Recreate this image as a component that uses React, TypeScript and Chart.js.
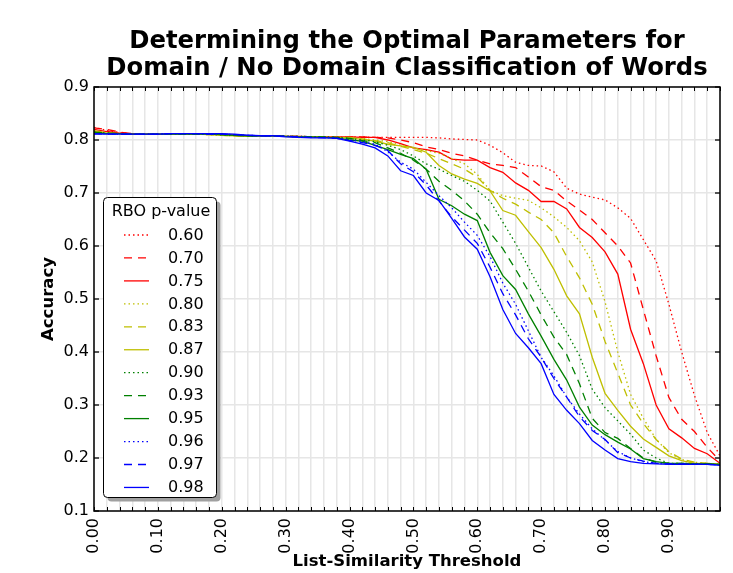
import React, { useEffect, useRef } from 'react';
import { Chart, registerables } from 'chart.js';

Chart.register(...registerables);

const FONT = '"DejaVu Sans", sans-serif';

const titleLines = ['Determining the Optimal Parameters for', 'Domain / No Domain Classification of Words'];
const xAxisTitle = 'List-Similarity Threshold';
const yAxisTitle = 'Accuracy';
const legendTitle = 'RBO p-value';

const thresholds = [
  0.00, 0.02, 0.04, 0.06, 0.08, 0.10, 0.12, 0.14, 0.16, 0.18,
  0.20, 0.22, 0.24, 0.26, 0.28, 0.30, 0.32, 0.34, 0.36, 0.38,
  0.40, 0.42, 0.44, 0.46, 0.48, 0.50, 0.52, 0.54, 0.56, 0.58,
  0.60, 0.62, 0.64, 0.66, 0.68, 0.70, 0.72, 0.74, 0.76, 0.78,
  0.80, 0.82, 0.84, 0.86, 0.88, 0.90, 0.92, 0.94, 0.96, 0.98,
];

const pValues = ['0.60', '0.70', '0.75', '0.80', '0.83', '0.87', '0.90', '0.93', '0.95', '0.96', '0.97', '0.98'];

const acc060 = [0.824,0.818,0.814,0.812,0.811,0.811,0.811,0.811,0.811,0.811,0.810,0.809,0.808,0.808,0.808,0.807,0.807,0.806,0.806,0.806,
  0.806,0.806,0.805,0.805,0.805,0.805,0.805,0.804,0.802,0.801,
  0.800,0.790,0.776,0.758,0.752,0.751,0.740,0.709,0.698,0.692,
  0.687,0.672,0.652,0.612,0.572,0.490,0.400,0.318,0.248,0.204];
const acc070 = [0.823,0.820,0.815,0.812,0.811,0.811,0.811,0.811,0.811,0.811,0.810,0.809,0.808,0.808,0.808,0.807,0.807,0.806,0.806,0.806,
  0.806,0.806,0.805,0.804,0.800,0.795,0.787,0.782,0.775,0.770,
  0.762,0.755,0.752,0.748,0.730,0.712,0.705,0.685,0.668,0.650,
  0.625,0.600,0.568,0.480,0.393,0.314,0.273,0.250,0.220,0.195];
const acc075 = [0.820,0.816,0.813,0.812,0.811,0.811,0.811,0.811,0.811,0.811,0.810,0.809,0.808,0.808,0.808,0.807,0.807,0.806,0.806,0.806,
  0.806,0.805,0.805,0.800,0.793,0.785,0.782,0.777,0.764,0.762,
  0.762,0.748,0.739,0.719,0.705,0.684,0.684,0.670,0.635,0.616,
  0.589,0.547,0.443,0.378,0.300,0.255,0.238,0.218,0.208,0.190];
const acc080 = [0.818,0.814,0.812,0.811,0.811,0.811,0.811,0.811,0.811,0.810,0.809,0.808,0.807,0.807,0.807,0.807,0.806,0.806,0.805,0.805,
  0.805,0.803,0.800,0.797,0.790,0.785,0.780,0.775,0.765,0.755,
  0.735,0.705,0.695,0.690,0.686,0.672,0.655,0.635,0.610,0.570,
  0.495,0.400,0.320,0.275,0.235,0.210,0.197,0.192,0.190,0.188];
const acc083 = [0.817,0.814,0.812,0.811,0.811,0.811,0.811,0.811,0.811,0.810,0.809,0.808,0.807,0.807,0.807,0.807,0.806,0.806,0.805,0.805,
  0.805,0.802,0.799,0.795,0.788,0.782,0.775,0.765,0.755,0.745,
  0.730,0.705,0.690,0.679,0.664,0.650,0.625,0.580,0.540,0.490,
  0.420,0.360,0.300,0.265,0.235,0.212,0.198,0.192,0.190,0.188];
const acc087 = [0.816,0.813,0.812,0.811,0.811,0.811,0.811,0.811,0.811,0.810,0.809,0.808,0.807,0.807,0.807,0.807,0.806,0.806,0.805,0.805,
  0.804,0.801,0.798,0.792,0.789,0.786,0.777,0.752,0.736,0.726,
  0.718,0.704,0.667,0.658,0.627,0.597,0.556,0.506,0.472,0.390,
  0.322,0.290,0.260,0.236,0.220,0.204,0.195,0.190,0.190,0.188];
const acc090 = [0.815,0.813,0.812,0.811,0.811,0.811,0.811,0.811,0.811,0.811,0.810,0.809,0.808,0.808,0.808,0.807,0.807,0.806,0.806,0.805,
  0.803,0.800,0.797,0.790,0.782,0.770,0.755,0.745,0.733,0.722,
  0.705,0.685,0.645,0.605,0.560,0.515,0.476,0.437,0.393,0.330,
  0.295,0.270,0.245,0.215,0.200,0.190,0.190,0.189,0.189,0.188];
const acc093 = [0.815,0.813,0.812,0.811,0.811,0.811,0.811,0.811,0.811,0.811,0.810,0.809,0.808,0.808,0.808,0.807,0.807,0.806,0.806,0.805,
  0.803,0.799,0.795,0.785,0.775,0.762,0.745,0.722,0.705,0.685,
  0.660,0.625,0.595,0.556,0.515,0.470,0.428,0.395,0.340,0.275,
  0.248,0.237,0.218,0.200,0.192,0.190,0.190,0.189,0.189,0.188];
const acc095 = [0.814,0.812,0.812,0.811,0.811,0.811,0.811,0.811,0.811,0.811,0.810,0.809,0.808,0.808,0.808,0.807,0.806,0.806,0.805,0.804,
  0.800,0.798,0.790,0.782,0.773,0.765,0.745,0.688,0.676,0.660,
  0.648,0.588,0.544,0.518,0.472,0.430,0.386,0.347,0.296,0.262,
  0.244,0.230,0.217,0.199,0.193,0.190,0.190,0.189,0.189,0.188];
const acc096 = [0.812,0.812,0.811,0.811,0.811,0.811,0.812,0.812,0.812,0.811,0.811,0.810,0.809,0.808,0.808,0.807,0.806,0.805,0.805,0.804,
  0.800,0.797,0.792,0.778,0.758,0.745,0.720,0.695,0.672,0.645,
  0.620,0.580,0.530,0.490,0.440,0.390,0.355,0.315,0.283,0.255,
  0.234,0.212,0.200,0.193,0.190,0.189,0.189,0.189,0.188,0.187];
const acc097 = [0.812,0.811,0.811,0.811,0.811,0.811,0.812,0.812,0.812,0.811,0.811,0.810,0.809,0.808,0.808,0.807,0.806,0.805,0.804,0.803,
  0.799,0.795,0.790,0.780,0.755,0.740,0.715,0.685,0.655,0.630,
  0.605,0.560,0.510,0.470,0.425,0.390,0.350,0.315,0.278,0.252,
  0.235,0.210,0.200,0.194,0.190,0.189,0.189,0.188,0.188,0.187];
const acc098 = [0.811,0.811,0.811,0.811,0.811,0.811,0.812,0.812,0.812,0.812,0.812,0.811,0.809,0.808,0.808,0.806,0.805,0.804,0.804,0.803,
  0.798,0.792,0.785,0.770,0.742,0.733,0.700,0.686,0.652,0.617,
  0.594,0.542,0.480,0.435,0.408,0.378,0.320,0.290,0.265,0.233,
  0.215,0.199,0.193,0.190,0.189,0.188,0.188,0.188,0.188,0.186];

const seriesValues = [acc060, acc070, acc075, acc080, acc083, acc087, acc090, acc093, acc095, acc096, acc097, acc098];

const RED = '#ff0000';
const YEL = '#bfbf00';
const GRN = '#008000';
const BLU = '#0000ff';
const seriesColors = [RED, RED, RED, YEL, YEL, YEL, GRN, GRN, GRN, BLU, BLU, BLU];
const DOT = [1.5, 3];
const DASH = [8, 6];
const SOLID: number[] = [];
const seriesDash = [DOT, DASH, SOLID, DOT, DASH, SOLID, DOT, DASH, SOLID, DOT, DASH, SOLID];

const decorPlugin = {
  id: 'decor',
  afterDraw(chart: any) {
    const { ctx, chartArea } = chart;
    const { left, right, top, bottom } = chartArea;
    const xs = chart.scales.x;
    const ys = chart.scales.y;
    ctx.save();

    // tick marks (inward)
    ctx.strokeStyle = '#000';
    ctx.lineWidth = 1;
    ctx.setLineDash([]);
    for (const t of thresholds) {
      const px = Math.round(xs.getPixelForValue(t)) + 0.5;
      ctx.beginPath();
      ctx.moveTo(px, bottom);
      ctx.lineTo(px, bottom - 4);
      ctx.moveTo(px, top);
      ctx.lineTo(px, top + 4);
      ctx.stroke();
    }
    ctx.strokeStyle = '#555';
    ctx.lineWidth = 2;
    for (let v = 1; v <= 9; v++) {
      const py = Math.round(ys.getPixelForValue(v / 10));
      ctx.beginPath();
      ctx.moveTo(left, py);
      ctx.lineTo(left + 5, py);
      ctx.moveTo(right, py);
      ctx.lineTo(right - 5, py);
      ctx.stroke();
    }

    // frame
    ctx.strokeStyle = '#000';
    ctx.lineWidth = 1.5;
    ctx.strokeRect(left, top, right - left, bottom - top);

    // legend
    const lx = 103.5, ly = 197.5, lw = 113, lh = 300, r = 4;
    const rr = (x: number, y: number, w: number, h: number) => {
      ctx.beginPath();
      ctx.moveTo(x + r, y);
      ctx.lineTo(x + w - r, y);
      ctx.arcTo(x + w, y, x + w, y + r, r);
      ctx.lineTo(x + w, y + h - r);
      ctx.arcTo(x + w, y + h, x + w - r, y + h, r);
      ctx.lineTo(x + r, y + h);
      ctx.arcTo(x, y + h, x, y + h - r, r);
      ctx.lineTo(x, y + r);
      ctx.arcTo(x, y, x + r, y, r);
      ctx.closePath();
    };
    rr(lx + 4, ly + 4, lw, lh);
    ctx.fillStyle = '#a0a0a0';
    ctx.fill();
    rr(lx, ly, lw, lh);
    ctx.fillStyle = '#ffffff';
    ctx.fill();
    ctx.strokeStyle = '#000';
    ctx.lineWidth = 1;
    ctx.stroke();

    ctx.fillStyle = '#000';
    ctx.font = `16px ${FONT}`;
    ctx.textAlign = 'center';
    ctx.textBaseline = 'middle';
    ctx.fillText(legendTitle, lx + lw / 2 + 1, 212);
    ctx.textAlign = 'left';
    chart.data.datasets.forEach((ds: any, i: number) => {
      const y = 235 + i * 22.95;
      ctx.save();
      ctx.strokeStyle = ds.borderColor;
      ctx.lineWidth = ds.borderWidth;
      ctx.setLineDash(ds.borderDash || []);
      ctx.beginPath();
      ctx.moveTo(124, y);
      ctx.lineTo(149, y);
      ctx.stroke();
      ctx.restore();
      ctx.fillStyle = '#000';
      ctx.fillText(ds.label, 168, y + 0.5);
    });

    // title
    ctx.font = `bold 24.3px ${FONT}`;
    ctx.textAlign = 'center';
    ctx.textBaseline = 'alphabetic';
    const cx = (left + right) / 2;
    ctx.fillText(titleLines[0], cx, 48);
    ctx.fillText(titleLines[1], cx, 75);

    ctx.restore();
  },
};

export default function App() {
  const ref = useRef<HTMLCanvasElement | null>(null);
  useEffect(() => {
    if (!ref.current) return;
    const datasets = seriesValues.map((vals, i) => ({
      label: pValues[i],
      data: thresholds.map((t, j) => ({ x: t, y: vals[j] })),
      borderColor: seriesColors[i],
      borderDash: seriesDash[i],
      borderWidth: 1.3,
      pointRadius: 0,
      fill: false,
      tension: 0,
      order: seriesValues.length - i,
    }));
    const chart = new Chart(ref.current, {
      type: 'line',
      data: { datasets },
      options: {
        responsive: false,
        animation: false,
        layout: { padding: { left: 0, right: 0, top: 87, bottom: 0 } },
        plugins: {
          legend: { display: false },
          tooltip: { enabled: false },
          title: { display: false },
        },
        scales: {
          x: {
            type: 'linear',
            min: 0,
            max: 0.98,
            ticks: {
              stepSize: 0.02,
              autoSkip: false,
              minRotation: 90,
              maxRotation: 90,
              color: '#000',
              padding: 7,
              font: { family: FONT, size: 16 },
              callback: (v: any) => {
                const n = Math.round(Number(v) * 100);
                return n % 10 === 0 ? (n / 100).toFixed(2) : '';
              },
            },
            grid: { color: '#e6e6e6', lineWidth: 1.5, drawTicks: false },
            border: { display: false },
            title: {
              display: true,
              text: xAxisTitle,
              color: '#000',
              font: { family: FONT, size: 16.5, weight: 'bold' },
              padding: { top: 0, bottom: 1 },
            },
            afterFit: (s: any) => { s.height = 62; s.paddingRight = 13; },
          },
          y: {
            type: 'linear',
            min: 0.1,
            max: 0.9,
            ticks: {
              stepSize: 0.1,
              color: '#000',
              padding: 5,
              font: { family: FONT, size: 16 },
              callback: (v: any) => Number(v).toFixed(1),
            },
            grid: { color: '#e6e6e6', lineWidth: 1.5, drawTicks: false },
            border: { display: false },
            title: {
              display: true,
              text: yAxisTitle,
              color: '#000',
              font: { family: FONT, size: 16.5, weight: 'bold' },
              padding: { top: 39, bottom: 0 },
            },
            afterFit: (s: any) => { s.width = 94; },
          },
        },
      } as any,
      plugins: [decorPlugin],
    });
    return () => chart.destroy();
  }, []);

  return (
    <div style={{ position: 'fixed', left: 0, top: 0, width: 733, height: 573, background: '#fff' }}>
      <canvas ref={ref} width={733} height={573} style={{ display: 'block' }} />
    </div>
  );
}
